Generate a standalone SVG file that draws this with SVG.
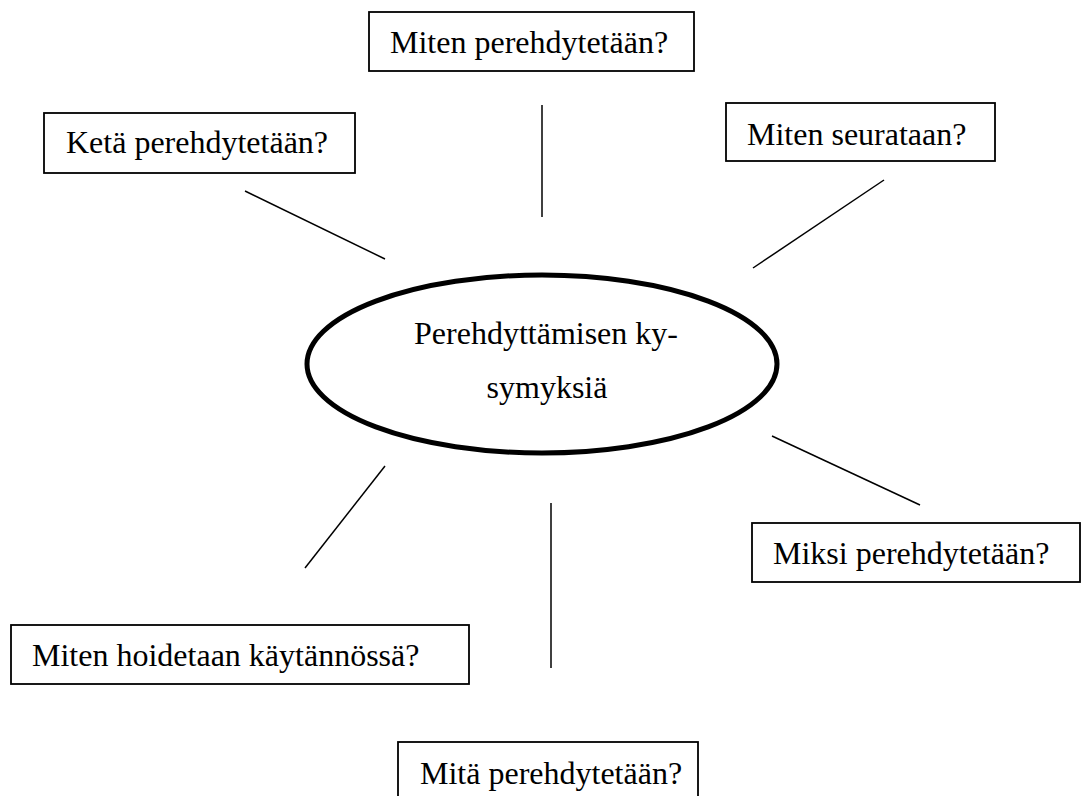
<svg xmlns="http://www.w3.org/2000/svg" width="1082" height="796" viewBox="0 0 1082 796">
  <style>
    .box { fill: #ffffff; stroke: #000000; stroke-width: 1.8; }
    .hub { fill: #ffffff; stroke: #000000; stroke-width: 5; }
    .lbl { font-family: "Liberation Serif", "Times New Roman", serif; font-size: 32px; fill: #000000; }
    .conn { stroke: #000000; stroke-width: 1.5; fill: none; }
  </style>
  <rect width="1082" height="796" fill="#ffffff"/>
  <g id="connectors">
    <line class="conn" x1="245" y1="191" x2="385" y2="259"/>
    <line class="conn" x1="542" y1="105" x2="542" y2="217"/>
    <line class="conn" x1="884" y1="180" x2="753" y2="268"/>
    <line class="conn" x1="772" y1="436" x2="920" y2="505"/>
    <line class="conn" x1="385" y1="466" x2="305" y2="568"/>
    <line class="conn" x1="551" y1="503" x2="551" y2="668"/>
  </g>
  <g id="center">
    <ellipse class="hub" cx="542" cy="364" rx="235" ry="89"/>
    <text class="lbl" x="546" y="344" text-anchor="middle">Perehdyttämisen ky-</text>
    <text class="lbl" x="547" y="398" text-anchor="middle">symyksiä</text>
  </g>
  <g id="node-miten-perehdytetaan">
    <rect class="box" x="369" y="12" width="325" height="59"/>
    <text class="lbl" x="390" y="53">Miten perehdytetään?</text>
  </g>
  <g id="node-keta">
    <rect class="box" x="44" y="113" width="311" height="60"/>
    <text class="lbl" x="66" y="153">Ketä perehdytetään?</text>
  </g>
  <g id="node-seurataan">
    <rect class="box" x="726" y="103" width="269" height="58"/>
    <text class="lbl" x="747" y="145">Miten seurataan?</text>
  </g>
  <g id="node-miksi">
    <rect class="box" x="752" y="523" width="328" height="59"/>
    <text class="lbl" x="773" y="564">Miksi perehdytetään?</text>
  </g>
  <g id="node-hoidetaan">
    <rect class="box" x="11" y="625" width="458" height="59"/>
    <text class="lbl" x="32" y="666">Miten hoidetaan käytännössä?</text>
  </g>
  <g id="node-mita">
    <rect class="box" x="398" y="742" width="300" height="70"/>
    <text class="lbl" x="420" y="784">Mitä perehdytetään?</text>
  </g>
</svg>
